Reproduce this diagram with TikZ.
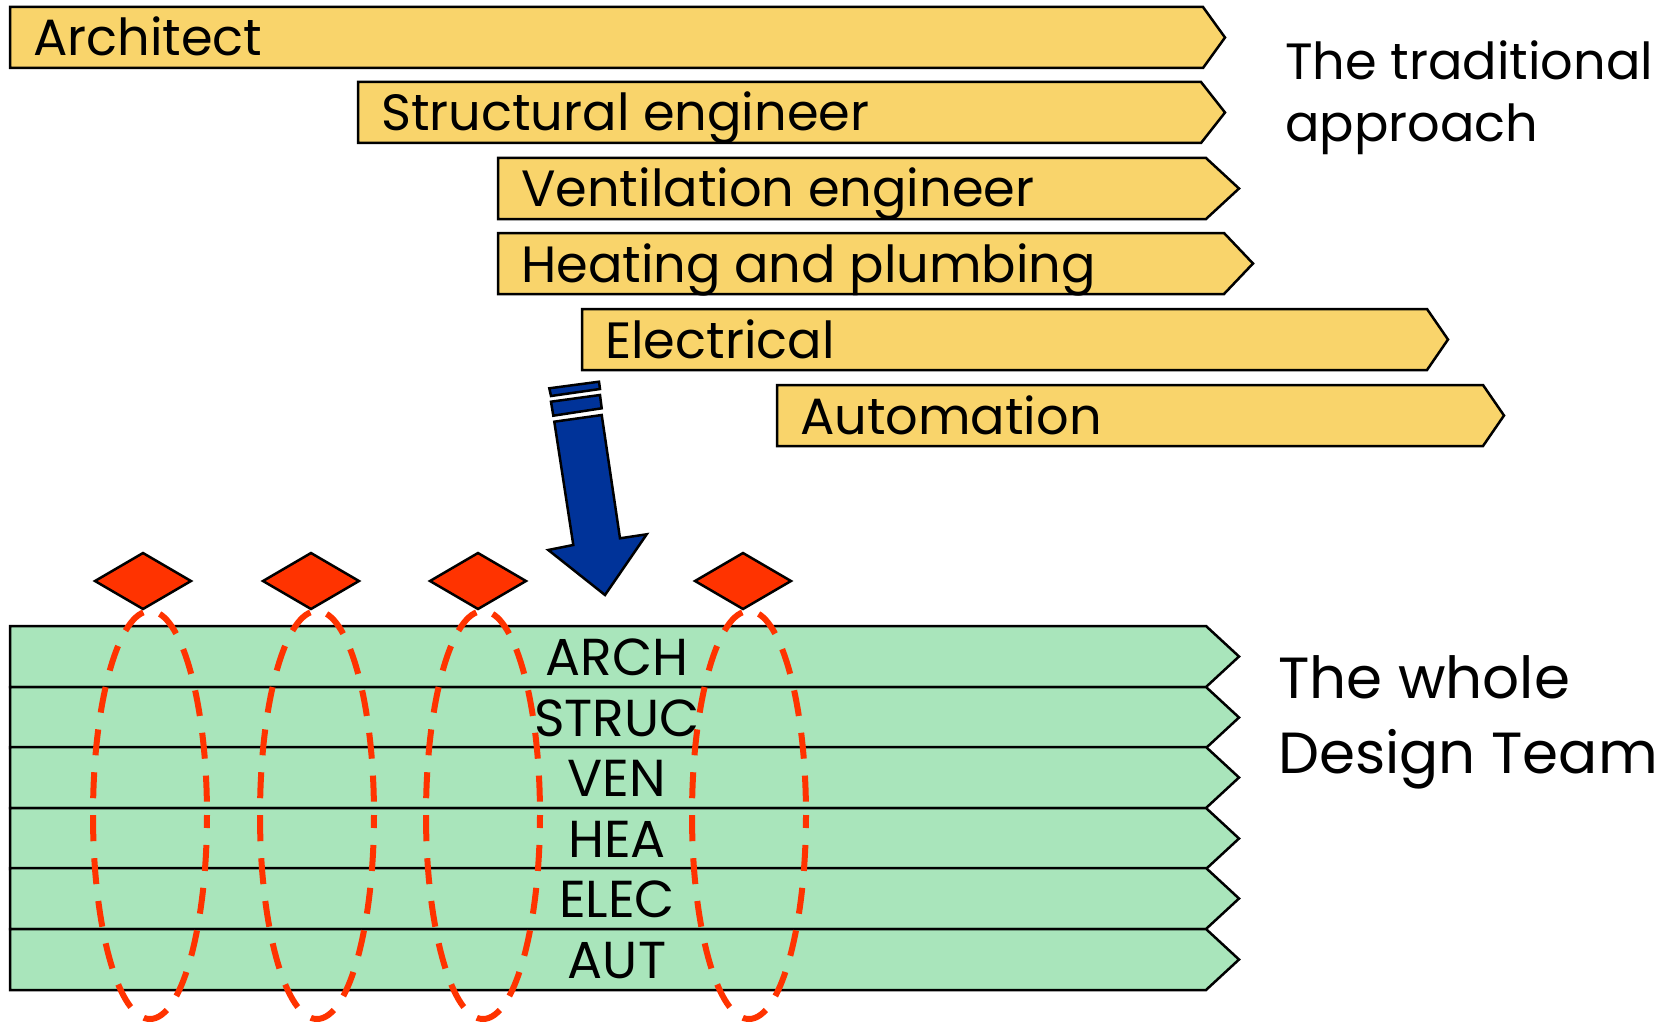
\documentclass[tikz,border=0pt]{standalone}
\usepackage{fontspec}
\setmainfont{Poppins}
\usepackage{xcolor}
\usetikzlibrary{
    positioning,
    shapes.geometric,
}
\definecolor{phaseyellow}{HTML}{F9D46B}
\definecolor{teamgreen}{HTML}{A9E5BB}
\definecolor{markred}{HTML}{FF3300}
\definecolor{flowblue}{HTML}{003399}
\tikzset{
    % Band styles
    phase/.style={draw=black, line width=2.5pt, fill=phaseyellow, line join=miter},
    team row/.style={draw=black, line width=2.5pt, fill=teamgreen, line join=miter},
    % Marker styles
    milestone/.style={diamond, draw=black, line width=2.5pt, fill=markred,
                      minimum width=97pt, minimum height=57pt, inner sep=0pt},
    group ring/.style={draw=markred, line width=6pt, dash pattern=on 26pt off 17pt, dash phase=13pt},
    % Arrow styles
    big arrow/.style={draw=black, line width=2.5pt, fill=flowblue, line join=miter},
}

\begin{document}
\begin{tikzpicture}[
    x=1pt, y=-1pt,
    phase label/.style={anchor=base west, inner sep=0pt, font=\fontsize{51}{56}\selectfont},
    team label/.style={anchor=base, inner sep=0pt, font=\fontsize{52}{58}\selectfont},
    side note/.style={anchor=base west, inner sep=0pt, align=left},
]
    \useasboundingbox (0,0) rectangle (1671,1022);

    % Traditional approach
    \foreach \n/\xl/\xc/\xt/\yt/\txt in {
        arch/10/1203/1225/7/Architect,
        struc/358/1201/1225/82/Structural engineer,
        ven/498/1206/1239/158/Ventilation engineer,
        hea/498/1224/1253/233/Heating and plumbing,
        elec/582/1427/1448/309/Electrical,
        aut/777/1483/1504/385/Automation} {
        \draw[phase] (\xl,\yt) -- (\xc,\yt) -- (\xt,\yt+30.5) -- (\xc,\yt+61) -- (\xl,\yt+61) -- cycle;
        \node[phase label] (\n) at (\xl+23,\yt+49) {\txt};
    }

    % base anchor sits on the last line
    \node[side note, font=\fontsize{51}{62}\selectfont] (trad) at (1285,142)
        {The traditional\\approach};

    % Arrow
    \draw[big arrow] (549.3,388.3) -- (599,381.7) -- (600,389) -- (551,396) -- cycle;
    \draw[big arrow] (551,401.7) -- (600,395) -- (601.7,408.3) -- (553.3,415.7) -- cycle;
    \draw[big arrow] (554.3,421.7) -- (601.7,415) -- (620,538.3) -- (646.7,534.3)
        -- (605,595) -- (548.3,550) -- (573.3,545) -- cycle;

    % Whole design team
    \foreach \n/\yt/\txt in {0/626/ARCH, 1/687/STRUC, 2/747/VEN, 3/808/HEA, 4/868/ELEC, 5/929/AUT} {
        \draw[team row] (10,\yt) -- (1206,\yt) -- (1239,\yt+30.5) -- (1206,\yt+61) -- (10,\yt+61) -- cycle;
        \node[team label] (team\n) at (617,\yt+49) {\txt};
    }

    \node[side note, font=\fontsize{58}{75}\selectfont] (whole) at (1278,773)
        {The whole\\Design Team};

    % Rings and gates
    \foreach \x in {150, 317, 483, 749} {
        \draw[group ring] (\x,815) ellipse [x radius=57, y radius=204];
    }
    \foreach \i/\x in {1/143, 2/311, 3/478, 4/743} {
        \node[milestone] (gate\i) at (\x,581) {};
    }
\end{tikzpicture}
\end{document}
